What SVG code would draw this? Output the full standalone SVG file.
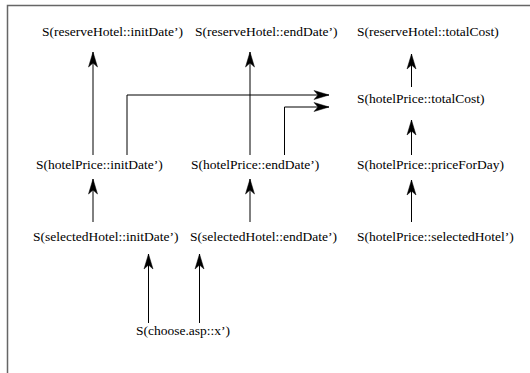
<svg xmlns="http://www.w3.org/2000/svg" width="530" height="373" viewBox="0 0 530 373">
<style>
  text { font-family: "Liberation Serif", "Times New Roman", serif; font-size: 13.5px; fill: #000; }
  .edge { fill: none; stroke: #000; stroke-width: 1; marker-end: url(#ah); }
  .frame { fill: none; stroke: #666; stroke-width: 1.5; }
</style>
<defs>
  <marker id="ah" markerUnits="userSpaceOnUse" viewBox="-16 -6 17 12" refX="0" refY="0" markerWidth="17" markerHeight="12" orient="auto">
    <path d="M0,0 L-15,-4.5 L-11,0 L-15,4.5 Z" fill="#000" stroke="#000" stroke-width="0.5" stroke-linejoin="miter"/>
  </marker>
</defs>
<rect width="530" height="373" fill="#fff"/>
<path class="frame" d="M7.5,373 L7.5,5.5 L530,5.5"/>
<g id="connectors">
  <path class="edge" d="M93,155 L93,52"/>
  <path class="edge" d="M250,155 L250,52"/>
  <path class="edge" d="M411.5,87 L411.5,54"/>
  <path class="edge" d="M411.5,155 L411.5,120"/>
  <path class="edge" d="M127,155 L127,95 L329,95"/>
  <path class="edge" d="M284.5,155 L284.5,107 L329,107"/>
  <path class="edge" d="M93,222 L93,179"/>
  <path class="edge" d="M250,222 L250,179"/>
  <path class="edge" d="M411.5,222 L411.5,180"/>
  <path class="edge" d="M148.5,323 L148.5,254"/>
  <path class="edge" d="M199.5,323 L199.5,254"/>
</g>
<g id="n_reserve_init"><text x="42" y="36">S(reserveHotel::initDate’)</text></g>
<g id="n_reserve_end"><text x="195" y="36">S(reserveHotel::endDate’)</text></g>
<g id="n_reserve_total"><text x="357" y="36">S(reserveHotel::totalCost)</text></g>
<g id="n_price_total"><text x="357" y="103">S(hotelPrice::totalCost)</text></g>
<g id="n_price_init"><text x="36" y="169">S(hotelPrice::initDate’)</text></g>
<g id="n_price_end"><text x="191" y="169">S(hotelPrice::endDate’)</text></g>
<g id="n_price_day"><text x="357" y="169">S(hotelPrice::priceForDay)</text></g>
<g id="n_sel_init"><text x="33" y="241">S(selectedHotel::initDate’)</text></g>
<g id="n_sel_end"><text x="190" y="241">S(selectedHotel::endDate’)</text></g>
<g id="n_price_sel"><text x="357" y="241">S(hotelPrice::selectedHotel’)</text></g>
<g id="n_choose"><text x="136" y="335">S(choose.asp::x’)</text></g>
</svg>
